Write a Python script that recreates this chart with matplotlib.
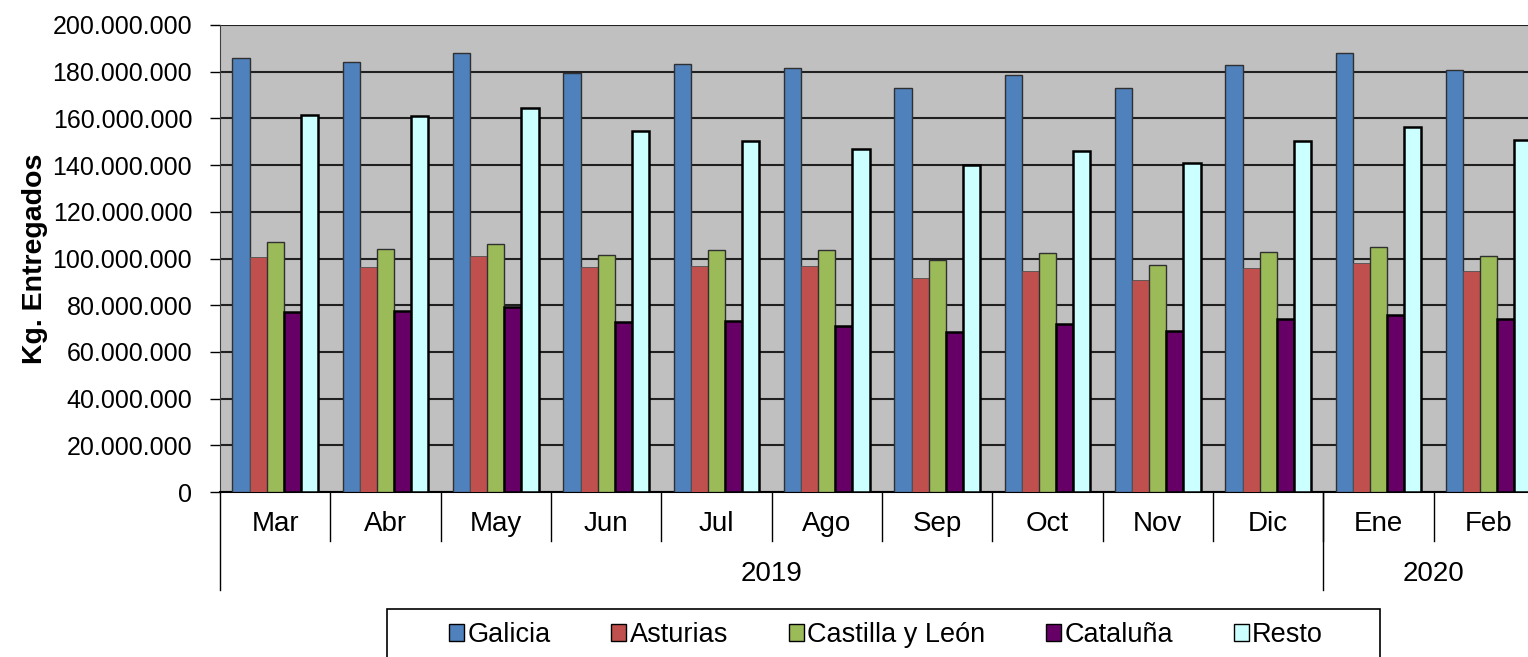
import numpy as np
import matplotlib.pyplot as plt
from matplotlib.patches import Patch, Rectangle
from matplotlib.ticker import FuncFormatter

plt.rcParams['font.family'] = ['Liberation Sans', 'DejaVu Sans']

months = ['Mar', 'Abr', 'May', 'Jun', 'Jul', 'Ago', 'Sep', 'Oct', 'Nov', 'Dic', 'Ene', 'Feb']
years = ['2019', '2020']
year_spans = [10, 2]

series_names = ['Galicia', 'Asturias', 'Castilla y León', 'Cataluña', 'Resto']

# millones de kg
galicia = [185.7, 184.0, 188.2, 179.3, 183.4, 181.6, 173.2, 178.6, 173.2, 182.7, 188.2, 180.9]
asturias = [100.5, 96.4, 101.1, 96.4, 96.9, 96.9, 91.6, 94.6, 90.9, 95.8, 98.1, 94.5]
castilla = [107.2, 104.1, 106.4, 101.5, 103.5, 103.5, 99.5, 102.2, 97.4, 102.8, 105.1, 101.1]
cataluna = [76.9, 77.5, 79.4, 72.7, 73.2, 71.2, 68.7, 71.8, 69.0, 74.1, 75.8, 74.1]
resto = [161.6, 161.0, 164.6, 154.6, 150.3, 146.8, 140.2, 146.2, 141.0, 150.3, 156.2, 150.9]

colors = ['#4F81BD', '#C0504D', '#9BBB59', '#660066', '#CCFFFF']
edges = ['#303030', '#505050', '#303030', 'black', 'black']
edge_w = [1.0, 0.6, 1.0, 1.8, 1.8]

W, H = 1528, 657
fig = plt.figure(figsize=(W / 100, H / 100), dpi=100)
ax = fig.add_axes([220 / W, (H - 492) / H, 1324 / W, 467 / H])
ax.set_facecolor('#C0C0C0')

data = [galicia, asturias, castilla, cataluna, resto]
x = np.arange(len(months)) + 0.5
bw = 0.155
for k, vals in enumerate(data):
    ax.bar(x + (k - 2) * bw, np.array(vals) * 1e6, width=bw, color=colors[k],
           edgecolor=edges[k], linewidth=edge_w[k], zorder=3)

ax.set_xlim(0, len(months))
ax.set_ylim(0, 200e6)
ax.set_yticks(np.arange(0, 200e6 + 1, 20e6))
ax.yaxis.set_major_formatter(FuncFormatter(lambda v, p: f'{int(v):,}'.replace(',', '.')))
ax.tick_params(axis='y', labelsize=18, length=7, width=1, direction='out', pad=13)
ax.set_xticks([])
ax.grid(axis='y', color='#202020', linewidth=1.5, zorder=1)
for s in ['top', 'right']:
    ax.spines[s].set_visible(False)
ax.spines['left'].set_color('#404040')
ax.spines['bottom'].set_color('black')
ax.spines['bottom'].set_linewidth(1.5)

ax.set_ylabel('Kg. Entregados', fontsize=20.5, fontweight='bold', labelpad=3)

# etiquetas de meses y años bajo el eje
tr = ax.get_xaxis_transform()
for i, m in enumerate(months):
    ax.text(i + 0.5, -0.069, m, transform=tr, ha='center', va='center', fontsize=20)
for i in range(1, len(months)):
    ax.plot([i, i], [0, -0.105], transform=tr, color='black', lw=1, clip_on=False)
start = 0
for yr, span in zip(years, year_spans):
    ax.plot([start, start], [0, -0.21], transform=tr, color='black', lw=1, clip_on=False)
    ax.text(start + span / 2, -0.175, yr, transform=tr, ha='center', va='center', fontsize=20)
    start += span

# leyenda con marco abierto por abajo (cortado en la imagen original)
fig.add_artist(Rectangle((387 / W, -0.05), 993 / W, 1 - 609 / H + 0.05,
                         transform=fig.transFigure, facecolor='white',
                         edgecolor='black', linewidth=1.2, zorder=1))
handles = [Patch(facecolor=c, edgecolor='black', linewidth=1) for c in colors]
fig.legend(handles, series_names, loc='upper center',
           bbox_to_anchor=(886 / W, 1 - 622 / H), ncol=5, fontsize=19.5,
           frameon=False, borderpad=0, borderaxespad=0, handlelength=0.55,
           handleheight=0.55, handletextpad=0.12, columnspacing=2.25)

fig.savefig('out.png', dpi=100)
